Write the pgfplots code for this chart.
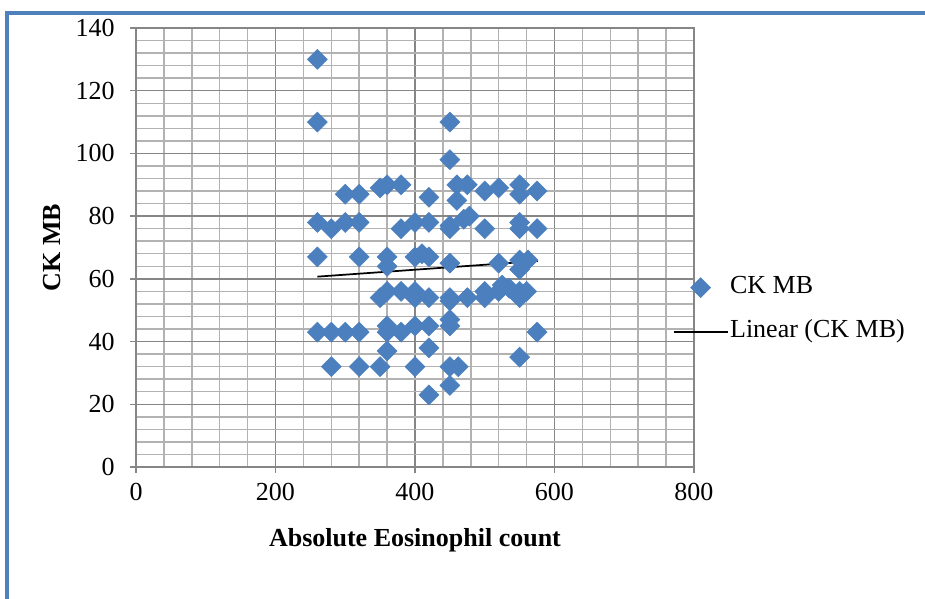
\documentclass[border=0pt]{standalone}
\usepackage{pgfplots}
\pgfplotsset{compat=1.18}
\usepackage{fontspec}
\setmainfont{Liberation Serif}
\definecolor{gridmajor}{RGB}{134,134,134}
\definecolor{gridminor}{RGB}{178,178,178}
\definecolor{ckblue}{RGB}{76,127,189}
\definecolor{frameblue}{RGB}{79,129,189}
\newcommand\fs{\fontsize{19.5}{23}\selectfont}
\pgfplotsset{
  markleg/.style={legend image code/.code={\draw[##1] plot coordinates {(20.25pt,0pt)};}},
  lineleg/.style={legend image code/.code={\draw[##1] (0pt,0pt) -- (40.5pt,0pt);}},
}
\begin{document}
\begin{tikzpicture}
\path[use as bounding box] (0,0) rectangle (693.75pt,449.25pt);
\draw[frameblue, line width=3pt] (5.25pt,0) -- (5.25pt,439.5pt) -- (693.75pt,439.5pt);
\begin{axis}[
  at={(102pt,99pt)}, anchor=south west,
  scale only axis, width=418.5pt, height=329.25pt,
  xmin=0, xmax=800, ymin=0, ymax=140,
  xtick={0,200,...,800}, ytick={0,20,...,140},
  minor x tick num=4, minor y tick num=4,
  grid=both,
  major grid style={color=gridmajor, line width=1.1pt},
  minor grid style={color=gridminor, line width=1.1pt},
  axis line style={gridmajor, line width=1.1pt},
  tick pos=left, tick align=outside,
  major tick length=4.5pt, minor tick length=0pt,
  tick style={gridmajor, line width=1.1pt},
  /pgf/number format/assume math mode=true,
  ticklabel style={font=\fs},
  yticklabel style={xshift=-8pt},
  xticklabel style={yshift=-4pt},
  xlabel={\textbf{Absolute Eosinophil count}},
  ylabel={\textbf{CK MB}},
  x label style={at={(axis description cs:0.5,-0.18)}, anchor=base, font=\fs},
  y label style={at={(axis description cs:-0.136,0.5)}, anchor=base, rotate=0, font=\fs},
  legend style={at={(axis description cs:0.9615,0.438)}, anchor=north west,
    draw=none, fill=none, inner sep=0pt, row sep=14pt, column sep=1.2pt,
    font=\fs, nodes={inner sep=0pt, text height=14pt, text depth=5pt}},
  legend cell align=left,
]
\addplot[only marks, mark=square*, mark size=5.3pt,
  mark options={rotate=45, fill=ckblue, draw=ckblue}, markleg]
  coordinates {
  (260,130) (260,110) (260,78) (260,67) (260,43)
  (280,76) (280,43) (280,32)
  (300,87) (300,78) (300,43)
  (320,87) (320,78) (320,67) (320,43) (320,32)
  (350,89) (350,54) (350,32)
  (360,90) (360,67) (360,64) (360,56) (360,45) (360,43) (360,37)
  (380,90) (380,76) (380,56) (380,43)
  (400,78) (400,67) (400,56) (400,54) (400,45) (400,32)
  (410,68)
  (420,86) (420,78) (420,67) (420,54) (420,45) (420,38) (420,23)
  (450,110) (450,98) (450,77) (450,76) (450,65) (450,54) (450,53) (450,47) (450,45) (450,32) (450,26)
  (460,90) (460,85) (462,32)
  (475,90) (478,80) (470,79) (475,54)
  (500,88) (500,76) (500,56) (500,54)
  (520,89) (520,65) (520,56) (525,58) (535,57)
  (550,90) (550,87) (550,78) (550,76) (550,66) (550,63) (550,56) (550,54) (550,35)
  (560,56) (562,66)
  (575,88) (575,76) (575,43)
  };
\addlegendentry{CK MB}
\addplot[black, line width=1.3pt, lineleg]
  coordinates {(260,60.7) (576,65.7)};
\addlegendentry{Linear (CK MB)}
\end{axis}
\end{tikzpicture}
\end{document}
